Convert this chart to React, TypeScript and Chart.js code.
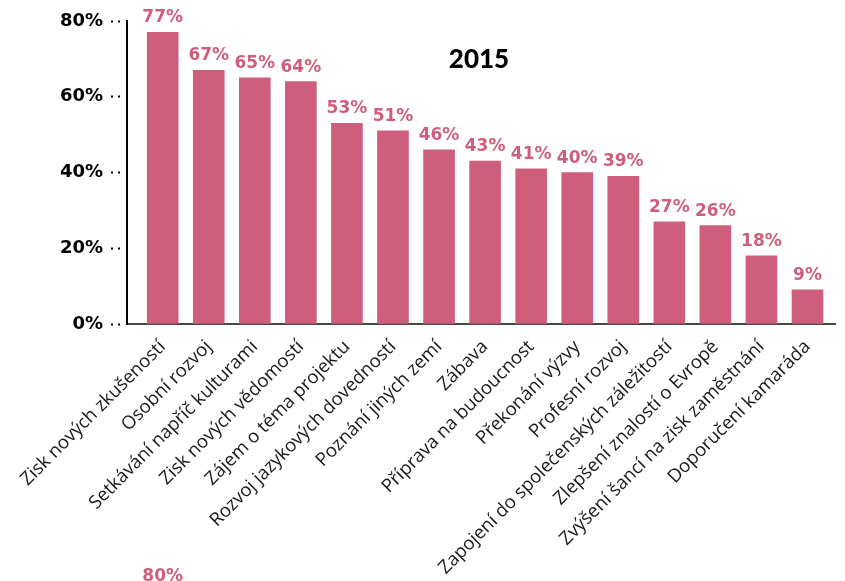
import React, { useEffect, useRef } from 'react';
import { Chart, registerables } from 'chart.js';

Chart.register(...registerables);

const categories = [
  'Zisk nových zkušeností',
  'Osobní rozvoj',
  'Setkávání napříč kulturami',
  'Zisk nových vědomostí',
  'Zájem o téma projektu',
  'Rozvoj jazykových dovedností',
  'Poznání jiných zemí',
  'Zábava',
  'Příprava na budoucnost',
  'Překonání výzvy',
  'Profesní rozvoj',
  'Zapojení do společenských záležitostí',
  'Zlepšení znalostí o Evropě',
  'Zvýšení šancí na zisk zaměstnání',
  'Doporučení kamaráda',
];
const values = [77, 67, 65, 64, 53, 51, 46, 43, 41, 40, 39, 27, 26, 18, 9];
const yTickValues = [0, 20, 40, 60, 80];
const chartTitle = '2015';
const nextChartLabel = '80%';

const PINK = '#cf5e7c';

const overlayPlugin = {
  id: 'overlay',
  afterDatasetsDraw(chart: any) {
    const ctx = chart.ctx;
    const meta = chart.getDatasetMeta(0);
    ctx.save();
    ctx.font = 'bold 17px "DejaVu Sans"';
    ctx.fillStyle = PINK;
    ctx.textAlign = 'center';
    ctx.textBaseline = 'alphabetic';
    meta.data.forEach((bar: any, i: number) => {
      ctx.fillText(values[i] + '%', bar.x, bar.y - 10);
    });
    // title inside plot
    ctx.font = '900 26px Lato';
    ctx.fillStyle = '#000';
    ctx.textBaseline = 'middle';
    ctx.fillText(chartTitle, 479, 60);
    // label of the next chart, cut off at the bottom
    ctx.font = 'bold 17px "DejaVu Sans"';
    ctx.fillStyle = PINK;
    ctx.textBaseline = 'top';
    ctx.fillText(nextChartLabel, meta.data[0].x, 568);
    ctx.restore();
  },
};

export default function App() {
  const ref = useRef<HTMLCanvasElement | null>(null);

  useEffect(() => {
    if (!ref.current) return;
    const chart = new Chart(ref.current, {
      type: 'bar',
      data: {
        datasets: [
          {
            data: categories.map((c, i) => ({ x: i, y: values[i] })),
            backgroundColor: PINK,
            barThickness: 31,
          },
        ],
      },
      options: {
        animation: false,
        responsive: false,
        devicePixelRatio: 1,
        layout: { padding: { top: 21, right: 10, left: 0, bottom: 0 } },
        plugins: {
          legend: { display: false },
          tooltip: { enabled: false },
          title: { display: false },
        },
        scales: {
          x: {
            type: 'linear',
            min: -0.775,
            max: 14.597,
            offset: false,
            z: 1,
            grid: { display: false, offset: false },
            border: { display: true, color: 'rgba(0,0,0,0.72)', width: 2 },
            afterBuildTicks: (s: any) => {
              s.ticks = categories.map((c, i) => ({ value: i }));
            },
            afterFit: (s: any) => {
              s.height = 257;
            },
            ticks: {
              autoSkip: false,
              minRotation: 45,
              maxRotation: 45,
              padding: 4,
              color: '#1a1a1a',
              font: { family: '"Open Sans"', size: 18.5 },
              callback: (v: any) => categories[v] ?? '',
            },
          },
          y: {
            min: 0,
            max: 80,
            afterFit: (s: any) => {
              s.width = 127;
            },
            afterBuildTicks: (s: any) => {
              s.ticks = yTickValues.map((v) => ({ value: v }));
            },
            grid: {
              drawOnChartArea: false,
              drawTicks: true,
              tickLength: 16,
              tickWidth: 2,
              tickColor: '#000',
              tickBorderDash: [2, 5, 2, 20],
            },
            border: { display: true, color: '#000', width: 2 },
            ticks: {
              padding: 8,
              color: '#000',
              font: { family: '"DejaVu Sans"', size: 18, weight: 'bold' },
              callback: (v: any) => v + '%',
            },
          },
        },
      },
      plugins: [overlayPlugin],
    } as any);
    return () => chart.destroy();
  }, []);

  return (
    <div style={{ position: 'absolute', left: 0, top: 0, width: 845, height: 581, background: '#fff' }}>
      <canvas ref={ref} width={845} height={581} />
    </div>
  );
}
